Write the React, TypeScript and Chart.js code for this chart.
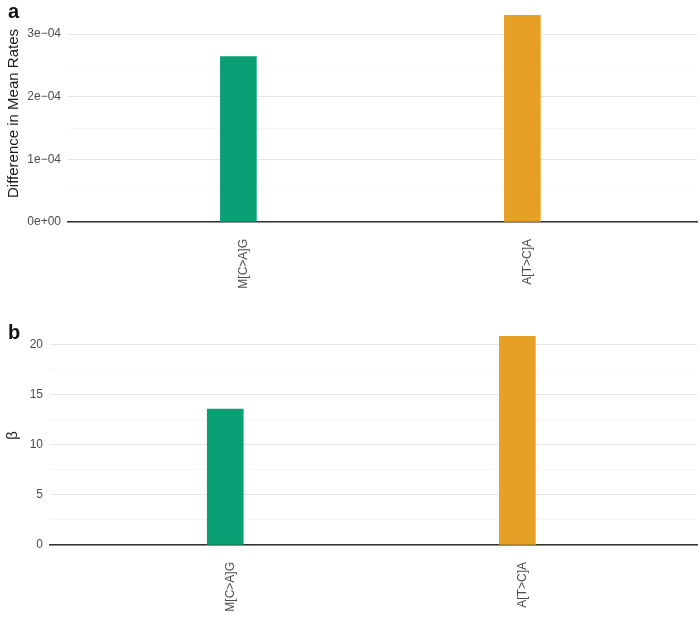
import React, { useEffect, useRef } from 'react';
import { Chart, registerables } from 'chart.js';
Chart.register(...registerables);

const categories = ['M[C>A]G', 'A[T>C]A'];
const barColors = ['#0a9f74', '#e6a026'];
const diffMeanRates = [2.64e-4, 3.30e-4];
const betaValues = [13.55, 20.8];
const ticksA = [0, 1e-4, 2e-4, 3e-4];
const minorTicksA = [0.5e-4, 1.5e-4, 2.5e-4];
const ticksB = [0, 5, 10, 15, 20];
const minorTicksB = [2.5, 7.5, 12.5, 17.5];

const FONT = "'Liberation Sans', Arial, Helvetica, sans-serif";

function sci(v: number): string {
  if (v === 0) return '0e+00';
  const [m, e] = v.toExponential(0).split('e');
  const n = parseInt(e, 10);
  return m + 'e' + (n < 0 ? '\u2212' : '+') + String(Math.abs(n)).padStart(2, '0');
}

type PanelProps = {
  values: number[];
  ticks: number[];
  minor: number[];
  fmt: (v: number) => string;
  title: string;
  titleSize: number;
  yWidth: number;
  padTop: number;
  xHeight: number;
  height: number;
  titlePad: number;
};

function Panel(p: PanelProps) {
  const ref = useRef<HTMLCanvasElement | null>(null);
  useEffect(() => {
    if (!ref.current) return;
    const chart = new Chart(ref.current, {
      type: 'bar',
      data: {
        datasets: [
          {
            data: categories.map((c, i) => ({ x: i + 1, y: p.values[i] })) as any,
            backgroundColor: barColors,
            barThickness: 36,
            borderWidth: 0,
          },
        ],
      },
      options: {
        animation: false,
        responsive: false,
        maintainAspectRatio: false,
        layout: { padding: { top: p.padTop, right: 3, left: 0, bottom: 0 } },
        plugins: { legend: { display: false }, tooltip: { enabled: false } },
        scales: {
          x: {
            type: 'linear',
            offset: false,
            min: 0.4,
            max: categories.length + 0.615,
            afterBuildTicks: (s: any) => {
              s.ticks = categories.map((_, i) => ({ value: i + 1 }));
            },
            afterFit: (s: any) => {
              s.height = p.xHeight;
              s.paddingLeft = 0;
              s.paddingRight = 0;
            },
            grid: { display: false, drawTicks: false, offset: false },
            border: { display: true, color: '#333333', width: 1.5 },
            ticks: {
              autoSkip: false,
              maxRotation: 90,
              minRotation: 90,
              padding: 17,
              labelOffset: 5,
              color: '#4d4d4d',
              font: { family: FONT, size: 12 },
              callback: (v: any) => categories[Math.round(Number(v)) - 1] ?? '',
            },
          },
          y: {
            min: 0,
            max: Math.max(...p.values) * 1.05,
            afterBuildTicks: (s: any) => {
              s.ticks = [...p.ticks, ...p.minor]
                .sort((a, b) => a - b)
                .map((v) => ({ value: v }));
            },
            afterFit: (s: any) => {
              s.width = p.yWidth;
              s.paddingTop = 0;
              s.paddingBottom = 0;
            },
            grid: {
              drawTicks: false,
              color: (ctx: any) =>
                ctx.tick && p.ticks.includes(ctx.tick.value) ? '#e6e6e6' : '#f2f2f2',
              lineWidth: (ctx: any) =>
                ctx.tick && p.ticks.includes(ctx.tick.value) ? 1 : 0.8,
            },
            border: { display: false },
            ticks: {
              padding: 7,
              color: '#4d4d4d',
              font: { family: FONT, size: 12 },
              callback: (v: any) => (p.ticks.includes(Number(v)) ? p.fmt(Number(v)) : ''),
            },
            title: {
              display: true,
              text: p.title,
              color: '#1a1a1a',
              font: { family: FONT, size: p.titleSize },
              padding: { top: p.titlePad, bottom: 2 },
            },
          },
        },
      },
    });
    return () => chart.destroy();
  }, []);
  return (
    <canvas
      ref={ref}
      width={700}
      height={p.height}
      style={{ display: 'block', width: 700, height: p.height }}
    />
  );
}

export default function App() {
  const labelStyle: React.CSSProperties = {
    position: 'absolute',
    left: 8,
    fontFamily: FONT,
    fontWeight: 'bold',
    fontSize: 20,
    color: '#111',
    lineHeight: '20px',
  };
  return (
    <div
      style={{
        position: 'fixed',
        left: 0,
        top: 0,
        width: 700,
        height: 623,
        background: '#fff',
      }}
    >
      <div style={{ position: 'absolute', left: 0, top: 0 }}>
        <Panel
          values={diffMeanRates}
          ticks={ticksA}
          minor={minorTicksA}
          fmt={sci}
          title="Difference in Mean Rates"
          titleSize={15}
          yWidth={68}
          padTop={5}
          xHeight={89}
          height={311}
          titlePad={5}
        />
      </div>
      <div style={{ position: 'absolute', left: 0, top: 311 }}>
        <Panel
          values={betaValues}
          ticks={ticksB}
          minor={minorTicksB}
          fmt={(v) => String(v)}
          title="β"
          titleSize={15}
          yWidth={50}
          padTop={15}
          xHeight={78}
          height={312}
          titlePad={4}
        />
      </div>
      <div style={{ ...labelStyle, top: 1 }}>a</div>
      <div style={{ ...labelStyle, top: 322 }}>b</div>
    </div>
  );
}
